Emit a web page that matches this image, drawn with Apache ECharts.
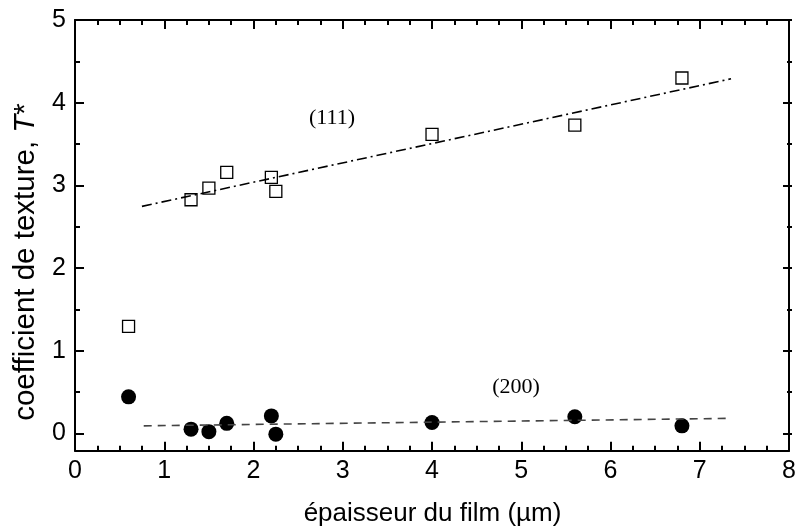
<!DOCTYPE html>
<html>
<head>
<meta charset="utf-8">
<script src="https://cdn.jsdelivr.net/npm/echarts@6/dist/echarts.min.js"></script>
<style>html,body{margin:0;padding:0;background:#fff}#c{width:799px;height:527px}</style>
</head>
<body>
<div id="c"></div>
<script>
// ---- data ----
const thickness = [0.6, 1.3, 1.5, 1.7, 2.2, 2.25, 4.0, 5.6, 6.8];
const t111 = [1.30, 2.83, 2.97, 3.16, 3.10, 2.93, 3.62, 3.73, 4.30];
const t200 = [0.45, 0.06, 0.03, 0.13, 0.22, 0.00, 0.14, 0.21, 0.10];
const fit111X = [0.75, 7.35];
const fit111Y = [2.75, 4.29];
const fit200X = [0.77, 7.30];
const fit200Y = [0.10, 0.19];
const xTickLabels = ['0','1','2','3','4','5','6','7','8'];
const yTickLabels = ['0','1','2','3','4','5'];
const xName = 'épaisseur du film (µm)';
const yNameText = 'coefficient de texture, ';
const label111 = '(111)';
const label200 = '(200)';

const sans = 'Liberation Sans, Arial, sans-serif';
const serif = 'Liberation Serif, Times New Roman, serif';
const zip = (a, b) => a.map((v, i) => [v, b[i]]);

const lineW = 2;
const tick = () => ({show: true, inside: true, length: 9, lineStyle: {color: '#000', width: 2}});
const minor = (n) => ({show: true, splitNumber: n, length: 5, lineStyle: {color: '#000', width: 2}});
const chart = echarts.init(document.getElementById('c'), null, {renderer: 'canvas'});

const option = {
  animation: false,
  backgroundColor: '#fff',
  grid: [
    {left: 75, right: 7, top: 20, bottom: 76.3},
    {left: 75, right: 7, top: 20, bottom: 93.7}
  ],
  xAxis: [
    {type: 'value', min: 0, max: 8, interval: 1, gridIndex: 0, position: 'bottom',
     axisLine: {show: true, onZero: false, lineStyle: {color: '#000', width: lineW}},
     axisTick: tick(), minorTick: minor(4), splitLine: {show: false},
     axisLabel: {show: true, fontSize: 25, color: '#000', fontFamily: sans, margin: 8,
       formatter: v => xTickLabels[Math.round(v)] ?? ''}},
    {type: 'value', min: 0, max: 8, interval: 1, gridIndex: 0, position: 'top',
     axisLine: {show: true, onZero: false, lineStyle: {color: '#000', width: lineW}},
     axisTick: tick(), minorTick: minor(4), splitLine: {show: false},
     axisLabel: {show: false}},
    {type: 'value', min: 0, max: 8, gridIndex: 1, show: false}
  ],
  yAxis: [
    {type: 'value', min: -0.2, max: 5, gridIndex: 0, position: 'left',
     axisLine: {show: true, onZero: false, lineStyle: {color: '#000', width: lineW}},
     axisTick: {show: false}, axisLabel: {show: false}, splitLine: {show: false}},
    {type: 'value', min: -0.2, max: 5, gridIndex: 0, position: 'right',
     axisLine: {show: true, onZero: false, lineStyle: {color: '#000', width: lineW}},
     axisTick: {show: false}, axisLabel: {show: false}, splitLine: {show: false}},
    {type: 'value', min: 0, max: 5, interval: 1, gridIndex: 1, position: 'left',
     axisLine: {show: false, onZero: false},
     axisTick: tick(), minorTick: minor(2),
     axisLabel: {show: true, fontSize: 25, color: '#000', fontFamily: sans, margin: 9,
       formatter: v => yTickLabels[Math.round(v)] ?? ''},
     splitLine: {show: false}},
    {type: 'value', min: 0, max: 5, interval: 1, gridIndex: 1, position: 'right',
     axisLine: {show: false, onZero: false},
     axisTick: tick(), minorTick: minor(2),
     axisLabel: {show: false}, splitLine: {show: false}}
  ],
  series: [
    {type: 'scatter', xAxisIndex: 0, yAxisIndex: 0, data: zip(thickness, t111),
     symbol: 'rect', symbolSize: 12,
     itemStyle: {color: 'rgba(255,255,255,0)', borderColor: '#000', borderWidth: 1.3, opacity: 1}},
    {type: 'scatter', xAxisIndex: 0, yAxisIndex: 0, data: zip(thickness, t200),
     symbol: 'circle', symbolSize: 15, itemStyle: {color: '#000', opacity: 1}},
    {type: 'line', xAxisIndex: 0, yAxisIndex: 0, data: zip(fit111X, fit111Y),
     showSymbol: false, symbol: 'none',
     lineStyle: {color: '#000', width: 1.6, type: [10, 4, 2, 4]}},
    {type: 'line', xAxisIndex: 0, yAxisIndex: 0, data: zip(fit200X, fit200Y),
     showSymbol: false, symbol: 'none',
     lineStyle: {color: '#444', width: 1.6, type: [8, 6]}}
  ],
  graphic: [
    {type: 'text', x: 26, y: 262, rotation: Math.PI / 2,
     style: {text: yNameText + '{i|T}*', fontSize: 29.5, fontFamily: sans, fill: '#000',
       align: 'center', verticalAlign: 'middle',
       rich: {i: {fontStyle: 'italic', fontSize: 29.5, fontFamily: sans, fill: '#000'}}}},
    {type: 'text', x: 432.5, y: 514,
     style: {text: xName, fontSize: 26, fontFamily: sans, fill: '#000',
       align: 'center', verticalAlign: 'middle'}},
    {type: 'text', x: 332, y: 118,
     style: {text: label111, fontSize: 22, fontFamily: serif, fill: '#000',
       align: 'center', verticalAlign: 'middle'}},
    {type: 'text', x: 516, y: 387.5,
     style: {text: label200, fontSize: 22, fontFamily: serif, fill: '#000',
       align: 'center', verticalAlign: 'middle'}}
  ]
};
chart.setOption(option);
</script>
</body>
</html>
